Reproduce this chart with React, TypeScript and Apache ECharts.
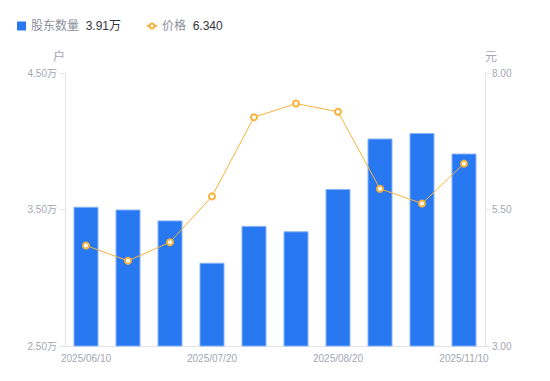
import React, { useEffect, useRef } from "react";
import * as echarts from "echarts";

const categories = [
  "2025/06/10",
  "2025/06/20",
  "2025/06/30",
  "2025/07/20",
  "2025/07/31",
  "2025/08/10",
  "2025/08/20",
  "2025/09/30",
  "2025/10/31",
  "2025/11/10",
];
// 股东数量 (万户)
const holders = [3.52, 3.5, 3.42, 3.11, 3.38, 3.34, 3.65, 4.02, 4.06, 3.91];
// 价格 (元)
const prices = [4.84, 4.56, 4.9, 5.74, 7.19, 7.44, 7.29, 5.88, 5.61, 6.34];

const leftTicks = { min: 2.5, max: 4.5, interval: 1 };
const rightTicks = { min: 3, max: 8, interval: 2.5 };

export default function App() {
  const ref = useRef<HTMLDivElement>(null);
  useEffect(() => {
    document.body.style.margin = "0";
    if (!ref.current) return;
    const chart = echarts.init(ref.current, undefined, { renderer: "svg" });
    const font = "'Liberation Sans', 'Noto Sans CJK SC', sans-serif";
    const labelColor = "#a3a6b4";
    const lineColor = "#e3e4ea";
    const lastHolder = holders[holders.length - 1];
    const lastPrice = prices[prices.length - 1];
    const rich = {
      n: { color: "#8c8f9c", fontSize: 12, fontFamily: font },
      v: { color: "#333640", fontSize: 12, fontFamily: font },
    };
    chart.setOption({
      animation: false,
      textStyle: { fontFamily: font },
      legend: [
        {
          left: 12,
          top: 15,
          itemWidth: 9,
          itemHeight: 9,
          data: [{ name: "股东数量", icon: "rect", itemStyle: { borderWidth: 0, color: "#2878f2" } }],
          formatter: (name: string) => `{n|${name}}  {v|${lastHolder.toFixed(2)}万}`,
          textStyle: { rich },
        },
        {
          left: 141,
          top: 15,
          itemWidth: 10,
          itemHeight: 6,
          data: [{ name: "价格" }],
          formatter: (name: string) => `{n|${name}}  {v|${lastPrice.toFixed(3)}}`,
          textStyle: { rich },
        },
      ],
      grid: { left: 65, right: 65, top: 73, bottom: 35 },
      xAxis: {
        type: "category",
        data: categories,
        axisLine: { show: true, lineStyle: { color: lineColor } },
        axisTick: { show: false },
        axisLabel: {
          interval: 2,
          color: labelColor,
          fontSize: 10,
          margin: 7,
          fontFamily: font,
        },
      },
      yAxis: [
        {
          type: "value",
          name: "户",
          nameGap: 10,
          nameTextStyle: { color: labelColor, fontSize: 12, align: "right" },
          min: leftTicks.min,
          max: leftTicks.max,
          interval: leftTicks.interval,
          position: "left",
          axisLine: { show: true, lineStyle: { color: lineColor } },
          axisTick: { show: true, length: 5, lineStyle: { color: lineColor } },
          splitLine: { show: false },
          axisLabel: {
            color: labelColor,
            fontSize: 10,
            margin: 8,
            formatter: (v: number) => v.toFixed(2) + "万",
          },
        },
        {
          type: "value",
          name: "元",
          nameGap: 10,
          nameTextStyle: { color: labelColor, fontSize: 12, align: "left" },
          min: rightTicks.min,
          max: rightTicks.max,
          interval: rightTicks.interval,
          position: "right",
          axisLine: { show: true, lineStyle: { color: lineColor } },
          axisTick: { show: true, length: 5, lineStyle: { color: lineColor } },
          splitLine: { show: false },
          axisLabel: {
            color: labelColor,
            fontSize: 10,
            margin: 7,
            formatter: (v: number) => v.toFixed(2),
          },
        },
      ],
      series: [
        {
          name: "股东数量",
          type: "bar",
          yAxisIndex: 0,
          data: holders,
          barWidth: 25,
          itemStyle: {
            color: "#2878f2",
            borderColor: "#86b3f8",
            borderWidth: 1,
          },
        },
        {
          name: "价格",
          type: "line",
          yAxisIndex: 1,
          data: prices,
          symbol: "circle",
          symbolSize: 6,
          lineStyle: { color: "#f7b23b", width: 1 },
          itemStyle: { color: "#ffffff", borderColor: "#f7b23b", borderWidth: 2 },
        },
      ],
    });
    return () => chart.dispose();
  }, []);
  return <div ref={ref} style={{ width: 550, height: 381 }} />;
}
